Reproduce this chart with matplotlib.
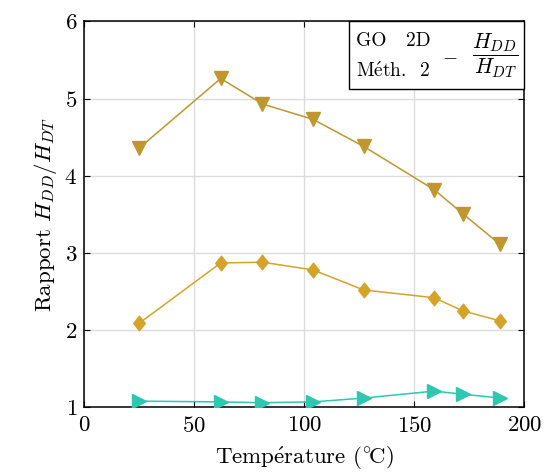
import matplotlib
matplotlib.use('Agg')
import matplotlib.pyplot as plt
from matplotlib.patches import Rectangle
from matplotlib.path import Path

plt.rcParams['font.family'] = ['cmr10', 'DejaVu Serif']
plt.rcParams['mathtext.fontset'] = 'cm'
plt.rcParams['axes.formatter.use_mathtext'] = True
plt.rcParams['axes.unicode_minus'] = False

# data
temp = [25, 62, 81, 104, 127, 159, 172, 189]
ratio_down = [4.36, 5.26, 4.93, 4.73, 4.38, 3.82, 3.51, 3.11]
ratio_diam = [2.09, 2.87, 2.88, 2.78, 2.52, 2.42, 2.25, 2.12]
ratio_right = [1.08, 1.07, 1.06, 1.07, 1.12, 1.21, 1.17, 1.12]

xticks = [0, 50, 100, 150, 200]
yticks = [1, 2, 3, 4, 5, 6]

c_down = '#C0962F'
c_diam = '#D4A42A'
c_right = '#2DC8B0'

thin_diamond = Path([(0, 1), (0.8, 0), (0, -1), (-0.8, 0), (0, 1)],
                    [Path.MOVETO, Path.LINETO, Path.LINETO, Path.LINETO, Path.CLOSEPOLY])

fig = plt.figure(figsize=(5.51, 4.75), dpi=100)
ax = fig.add_axes([0.153, 0.1425, 0.7985, 0.8125])

ax.plot(temp, ratio_down, '-', marker='v', color=c_down, lw=1.1, ms=9.5, zorder=3)
ax.plot(temp, ratio_diam, '-', marker=thin_diamond, color=c_diam, lw=1.1, ms=10.5, zorder=3)
ax.plot(temp, ratio_right, '-', marker='>', color=c_right, lw=1.1, ms=9.5, zorder=3)

ax.set_xlim(0, 200)
ax.set_ylim(1, 6)
ax.set_xticks(xticks)
ax.set_yticks(yticks)
ax.tick_params(direction='in', top=True, right=True, length=4, width=0.8, labelsize=16.5)
ax.tick_params(axis='x', pad=6)
ax.tick_params(axis='y', pad=5)
ax.grid(True, color='#DCDCDC', lw=1.0)
ax.set_axisbelow(True)
for s in ax.spines.values():
    s.set_linewidth(1.1)

ax.set_xlabel('Temp$\\acute{\\rm e}$rature $(^{\\circ}\\!\\mathrm{C})$', fontsize=16.5, labelpad=7)
ax.set_ylabel('Rapport $H_{DD}/H_{DT}$', fontsize=16.5, labelpad=4)

# legend-style box in the upper right corner
ax.add_patch(Rectangle((0.6025, 0.8235), 0.3975, 0.1765, transform=ax.transAxes,
                       facecolor='white', edgecolor='black', lw=1.0, zorder=5, clip_on=False))
ax.text(0.618, 0.95, 'GO   2D', transform=ax.transAxes, fontsize=14, va='center', ha='left', zorder=6)
ax.text(0.618, 0.87, 'M$\\acute{\\rm e}$th.  2', transform=ax.transAxes, fontsize=14, va='center', ha='left', zorder=6)
ax.text(0.83, 0.91, '$-$', transform=ax.transAxes, fontsize=14, va='center', ha='center', zorder=6)
ax.text(0.933, 0.91, '$\\dfrac{H_{DD}}{H_{DT}}$', transform=ax.transAxes, fontsize=15.5,
        va='center', ha='center', zorder=6)

fig.savefig('out.png', dpi=100)
